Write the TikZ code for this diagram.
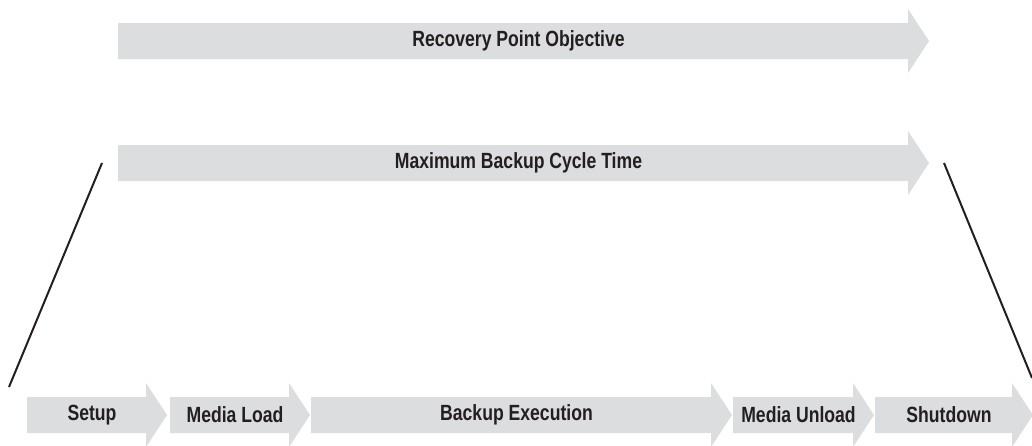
\documentclass[tikz,border=0pt]{standalone}
\usepackage{fontspec}
\setmainfont{Liberation Sans}[FakeStretch=0.8]
\definecolor{arrowgray}{HTML}{DCDDDF}
\definecolor{labelgray}{HTML}{231F20}
\tikzset{
    phase/.style = {text=labelgray, font=\fontsize{22}{24}\selectfont\bfseries, inner sep=0pt},
    edgeline/.style = {line width=2pt, color=labelgray}
}
% name, left x, tip x, centre y, label
\newcommand{\phasearrow}[5]{%
    \fill [color=arrowgray] (#2,#4-18) -- (#3-21,#4-18) -- (#3-21,#4-32) -- (#3,#4)
        -- (#3-21,#4+32) -- (#3-21,#4+18) -- (#2,#4+18) -- cycle;
    \node [phase] (#1) at ({(#2+#3-10)/2},#4) {#5};
}
\begin{document}
\begin{tikzpicture}[x=1pt, y=-1pt]
    \useasboundingbox (0,0) rectangle (1032,445);
    \clip (0,0) rectangle (1032,445);
    \phasearrow{rpo}{118}{929}{41}{Recovery Point Objective}
    \phasearrow{cycle}{118}{929}{163}{Maximum Backup Cycle Time}
    \phasearrow{setup}{27}{167}{415}{Setup}
    \phasearrow{load}{170}{310}{415}{Media Load}
    \phasearrow{exec}{311}{732}{415}{Backup Execution}
    \phasearrow{unload}{733}{874}{415}{Media Unload}
    \phasearrow{shutdown}{875}{1033}{415}{Shutdown}
    \coordinate (cycleleft) at (102,163);
    \coordinate (setupleft) at (9,387);
    \coordinate (cycleright) at (944,163);
    \coordinate (shutdownright) at (1032,378);
    \draw [edgeline] (cycleleft) -- (setupleft);
    \draw [edgeline] (cycleright) -- (shutdownright);
\end{tikzpicture}
\end{document}
